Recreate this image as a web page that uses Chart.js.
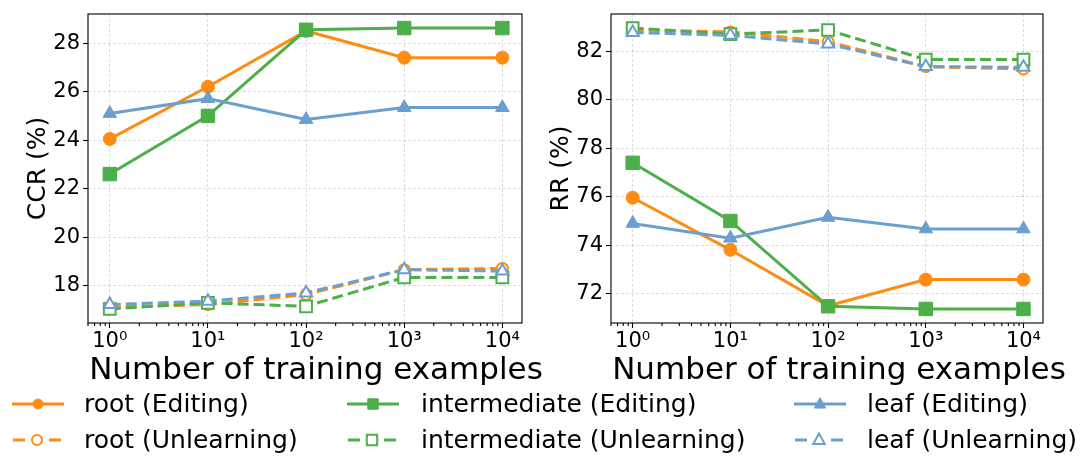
<!DOCTYPE html>
<html>
<head>
<meta charset="utf-8">
<script src="https://cdn.jsdelivr.net/npm/chart.js@4.4.1/dist/chart.umd.min.js"></script>
<style>
  html, body { margin: 0; padding: 0; background: #fff; }
  body { width: 1083px; height: 470px; position: relative; overflow: hidden; font-family: "DejaVu Sans", sans-serif; }
  .box { position: absolute; top: 0; height: 392px; }
  .xtitle { position: absolute; top: 350px; width: 600px; text-align: center; font-size: 31px; line-height: 36px; color: #000; white-space: nowrap; }
  .lg-handle { position: absolute; }
  .lg-text { position: absolute; font-size: 25px; line-height: 30px; color: #000; white-space: nowrap; }
</style>
</head>
<body>
<div class="box" style="left:0;width:540px"><canvas id="ccr"></canvas></div>
<div class="box" style="left:540px;width:543px"><canvas id="rr"></canvas></div>
<div class="xtitle" style="left:16px">Number of training examples</div>
<div class="xtitle" style="left:539px">Number of training examples</div>
<div id="legend"></div>
<script>
const examples = [1, 10, 100, 1000, 10000];
const xTickLabels = ['10⁰', '10¹', '10²', '10³', '10⁴'];
const ccrTicks = [18, 20, 22, 24, 26, 28];
const rrTicks = [72, 74, 76, 78, 80, 82];

const seriesNames = [
  'root (Editing)', 'root (Unlearning)',
  'intermediate (Editing)', 'intermediate (Unlearning)',
  'leaf (Editing)', 'leaf (Unlearning)'
];

// CCR (%)
const ccrRootEdit      = [24.05, 26.2, 28.5, 27.4, 27.4];
const ccrRootUnlearn   = [17.12, 17.22, 17.63, 18.66, 18.71];
const ccrInterEdit     = [22.6, 25.0, 28.55, 28.62, 28.62];
const ccrInterUnlearn  = [17.04, 17.29, 17.15, 18.34, 18.34];
const ccrLeafEdit      = [25.1, 25.71, 24.85, 25.34, 25.34];
const ccrLeafUnlearn   = [17.22, 17.36, 17.7, 18.66, 18.6];

// RR (%)
const rrRootEdit       = [75.96, 73.81, 71.5, 72.58, 72.58];
const rrRootUnlearn    = [82.88, 82.8, 82.4, 81.37, 81.27];
const rrInterEdit      = [77.4, 75.0, 71.48, 71.37, 71.37];
const rrInterUnlearn   = [82.96, 82.71, 82.88, 81.66, 81.66];
const rrLeafEdit       = [74.9, 74.29, 75.15, 74.67, 74.67];
const rrLeafUnlearn    = [82.78, 82.66, 82.3, 81.37, 81.34];

const orange = '#ff8c12';
const green = '#4daf4a';
const blue = '#6a9fcf';

const seriesStyle = [
  { color: orange, shape: 'circle', hollow: false },
  { color: orange, shape: 'circle', hollow: true },
  { color: green, shape: 'rect', hollow: false },
  { color: green, shape: 'rect', hollow: true },
  { color: blue, shape: 'triangle', hollow: false },
  { color: blue, shape: 'triangle', hollow: true }
];
const solidRadius = { circle: 6.5, rect: 9.5, triangle: 7.8 };
const hollowRadius = { circle: 5.5, rect: 8.3, triangle: 7 };

function makeDatasets(lists) {
  return lists.map((vals, i) => {
    const s = seriesStyle[i];
    const r = s.hollow ? hollowRadius[s.shape] : solidRadius[s.shape];
    return {
      label: seriesNames[i],
      data: examples.map((x, j) => ({ x: x, y: vals[j] })),
      borderColor: s.color,
      backgroundColor: s.color,
      borderWidth: 3,
      borderDash: s.hollow ? [11, 5] : [],
      pointStyle: s.shape,
      pointRadius: r,
      pointHoverRadius: r,
      pointBackgroundColor: s.hollow ? '#ffffff' : s.color,
      pointBorderColor: s.color,
      pointBorderWidth: s.hollow ? 2 : 1,
      tension: 0,
      fill: false,
      clip: false,
      order: -i
    };
  });
}

// minor ticks of the log axis, 2..9 x 10^k
const minorTicks = [];
for (let k = -1; k <= 4; k++) {
  for (let m = 2; m <= 9; m++) minorTicks.push(m * Math.pow(10, k));
}

const framePlugin = {
  id: 'frame',
  afterDraw(chart) {
    const { ctx, chartArea: a, scales } = chart;
    ctx.save();
    ctx.strokeStyle = '#000';
    ctx.lineWidth = 1.1;
    ctx.beginPath();
    minorTicks.forEach(v => {
      if (v < scales.x.min || v > scales.x.max) return;
      const px = scales.x.getPixelForValue(v);
      ctx.moveTo(px, a.bottom);
      ctx.lineTo(px, a.bottom + 3);
    });
    ctx.stroke();
    ctx.strokeRect(a.left, a.top, a.right - a.left, a.bottom - a.top);
    ctx.restore();
  }
};

const font = (size) => ({ family: 'DejaVu Sans', size: size, lineHeight: 1 });
const gridOpts = { color: 'rgba(0,0,0,0.17)', lineWidth: 0.8, tickColor: '#000', tickLength: 5, tickWidth: 1.1 };

function makeOptions(yTitle, yMin, yMax, yTicks, titlePad, yWidth, rightPad) {
  return {
    responsive: true,
    maintainAspectRatio: false,
    animation: false,
    layout: { padding: { top: 14, right: rightPad, bottom: 0, left: 0 } },
    plugins: { legend: { display: false }, tooltip: { enabled: false } },
    scales: {
      x: {
        type: 'logarithmic',
        min: Math.pow(10, -0.2),
        max: Math.pow(10, 4.2),
        afterBuildTicks: s => { s.ticks = examples.map(v => ({ value: v })); },
        afterFit: s => { s.height = 69; },
        ticks: {
          autoSkip: false, maxRotation: 0, minRotation: 0, padding: 3,
          color: '#000', font: font(21),
          callback: (v, i) => xTickLabels[i]
        },
        grid: gridOpts,
        border: { display: false, dash: [3, 2] },
        title: { display: false }
      },
      y: {
        type: 'linear',
        min: yMin,
        max: yMax,
        afterBuildTicks: s => { s.ticks = yTicks.map(v => ({ value: v })); },
        afterFit: s => { s.width = yWidth; },
        ticks: { padding: 3, color: '#000', font: font(21) },
        grid: gridOpts,
        border: { display: false, dash: [3, 2] },
        title: {
          display: true, text: yTitle, color: '#000',
          font: font(25), padding: { top: titlePad, bottom: 0 }
        }
      }
    }
  };
}

new Chart(document.getElementById('ccr'), {
  type: 'line',
  data: { datasets: makeDatasets([ccrRootEdit, ccrRootUnlearn, ccrInterEdit, ccrInterUnlearn, ccrLeafEdit, ccrLeafUnlearn]) },
  options: makeOptions('CCR (%)', 16.46, 29.2, ccrTicks, 26, 88, 18),
  plugins: [framePlugin]
});

new Chart(document.getElementById('rr'), {
  type: 'line',
  data: { datasets: makeDatasets([rrRootEdit, rrRootUnlearn, rrInterEdit, rrInterUnlearn, rrLeafEdit, rrLeafUnlearn]) },
  options: makeOptions('RR (%)', 70.79, 83.54, rrTicks, 9, 71, 40),
  plugins: [framePlugin]
});

// legend: 3 columns, filled column by column
const handleX = [12, 347, 794];
const textX = [84, 421, 867];
const rowY = [403.5, 439.5];
const legend = document.getElementById('legend');

function drawShape(ctx, shape, x, y, r) {
  ctx.beginPath();
  if (shape === 'circle') {
    ctx.arc(x, y, r, 0, Math.PI * 2);
  } else if (shape === 'rect') {
    ctx.rect(x - r, y - r, 2 * r, 2 * r);
  } else {
    ctx.moveTo(x, y - r * 1.1);
    ctx.lineTo(x + r, y + r * 0.7);
    ctx.lineTo(x - r, y + r * 0.7);
    ctx.closePath();
  }
}

seriesNames.forEach((name, i) => {
  const s = seriesStyle[i];
  const col = Math.floor(i / 2), row = i % 2;
  const dpr = window.devicePixelRatio || 1;
  const w = 52, h = 24;
  const c = document.createElement('canvas');
  c.className = 'lg-handle';
  c.width = w * dpr; c.height = h * dpr;
  c.style.width = w + 'px'; c.style.height = h + 'px';
  c.style.left = handleX[col] + 'px';
  c.style.top = (rowY[row] - h / 2) + 'px';
  const ctx = c.getContext('2d');
  ctx.scale(dpr, dpr);
  ctx.strokeStyle = s.color;
  ctx.lineWidth = 3;
  ctx.beginPath();
  if (s.hollow) {
    ctx.moveTo(1, h / 2); ctx.lineTo(13, h / 2);
    ctx.moveTo(37, h / 2); ctx.lineTo(49, h / 2);
  } else {
    ctx.moveTo(0, h / 2); ctx.lineTo(w, h / 2);
  }
  ctx.stroke();
  const r = s.shape === 'rect' ? 5.2 : (s.shape === 'circle' ? 5 : 5.8);
  const cx = s.hollow ? 25 : 26;
  drawShape(ctx, s.shape, cx, h / 2, r);
  ctx.fillStyle = s.hollow ? '#fff' : s.color;
  ctx.fill();
  ctx.lineWidth = s.hollow ? 2 : 1;
  ctx.stroke();
  legend.appendChild(c);

  const t = document.createElement('div');
  t.className = 'lg-text';
  t.textContent = name;
  t.style.left = textX[col] + 'px';
  t.style.top = (rowY[row] - 15) + 'px';
  legend.appendChild(t);
});
</script>
</body>
</html>
